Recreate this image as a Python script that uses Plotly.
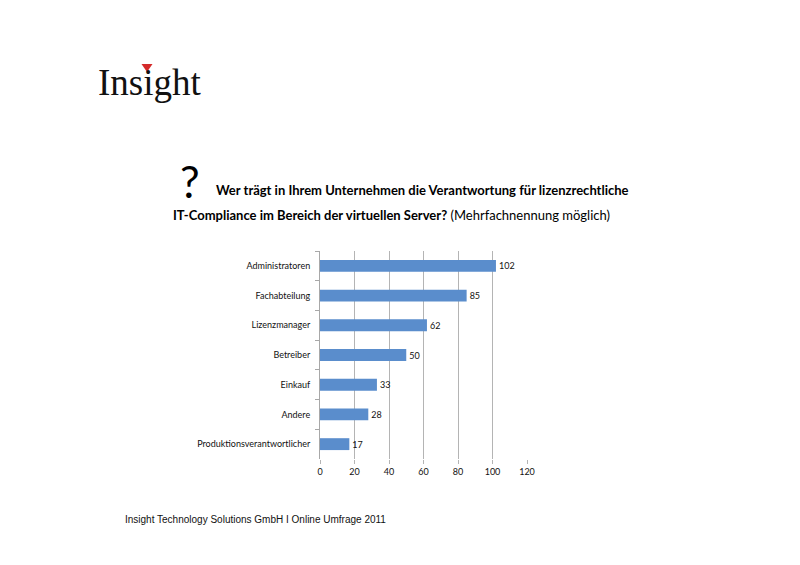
import plotly.graph_objects as go

categories = ["Administratoren", "Fachabteilung", "Lizenzmanager", "Betreiber",
              "Einkauf", "Andere", "Produktionsverantwortlicher"]
values = [102, 85, 62, 50, 33, 28, 17]
x_ticks = [0, 20, 40, 60, 80, 100, 120]

W, H = 800, 565
OFF = 8  # page body offset
L, R, T, B = 320 - OFF, 273 + OFF, 251 - OFF, 106 + OFF
PW, PH = W - L - R, H - T - B

fig = go.Figure()
fig.add_trace(go.Bar(
    y=categories, x=values, orientation="h",
    marker=dict(color="#5A8DCC", line=dict(width=0)),
    text=[str(v) for v in values], textposition="outside",
    textfont=dict(family="Lato, Open Sans, sans-serif", size=9, color="#111"),
    cliponaxis=False, width=0.4,
))

fig.update_layout(
    width=W, height=H,
    paper_bgcolor="white", plot_bgcolor="white",
    margin=dict(l=L, r=R, t=T, b=B),
    showlegend=False,
    xaxis=dict(range=[0, 120], tickvals=x_ticks, showgrid=True, gridcolor="#b4b4b4",
               gridwidth=1, zeroline=False, showline=False, ticks="outside", ticklen=4,
               tickcolor="#b4b4b4",
               tickfont=dict(family="Lato, Open Sans, sans-serif", size=9, color="#111")),
    yaxis=dict(autorange="reversed", showline=True, linecolor="#a8a8a8", ticks="outside",
               tickson="boundaries", ticklen=4, tickcolor="#a8a8a8",
               tickfont=dict(family="Lato, Open Sans, sans-serif", size=9, color="#111"),
               ticklabelstandoff=7),
)

def px(x, y):
    return ((x - OFF) - L) / PW, 1 - ((y - OFF) - T) / PH

annos = [
    dict(text="Insight", x=96, y=82, xanchor="left", yanchor="middle",
         font=dict(family="Liberation Serif, serif", size=37, color="#111")),
    dict(text="?", x=178, y=181, xanchor="left", yanchor="middle",
         font=dict(family="Lato, Open Sans, sans-serif", size=44, color="#000")),
    dict(text="<b>Wer trägt in Ihrem Unternehmen die Verantwortung für lizenzrechtliche</b>",
         x=214, y=190, xanchor="left", yanchor="middle",
         font=dict(family="Lato, Open Sans, sans-serif", size=13, color="#000")),
    dict(text="<b>IT-Compliance im Bereich der virtuellen Server?</b> (Mehrfachnennung möglich)",
         x=171, y=215, xanchor="left", yanchor="middle",
         font=dict(family="Lato, Open Sans, sans-serif", size=13, color="#000")),
    dict(text="Insight Technology Solutions GmbH I Online Umfrage 2011",
         x=123, y=519, xanchor="left", yanchor="middle",
         font=dict(family="Liberation Sans, Arial, sans-serif", size=10, color="#111")),
]
for a in annos:
    ax, ay = px(a["x"], a["y"])
    fig.add_annotation(text=a["text"], x=ax, y=ay, xref="paper", yref="paper",
                       xanchor=a["xanchor"], yanchor=a["yanchor"], showarrow=False,
                       font=a["font"])

# red triangle of logo (replaces the dot of the "i")
tx, ty = 147, 64
x0, y0 = px(tx - 5.5, ty)
x1, y1 = px(tx + 5.5, ty)
x2, y2 = px(tx, ty + 8)
fig.add_shape(type="path", xref="paper", yref="paper",
              path=f"M {x0} {y0} L {x1} {y1} L {x2} {y2} Z",
              fillcolor="#d42a2a", line=dict(width=0))

fig.write_html("out.html")
